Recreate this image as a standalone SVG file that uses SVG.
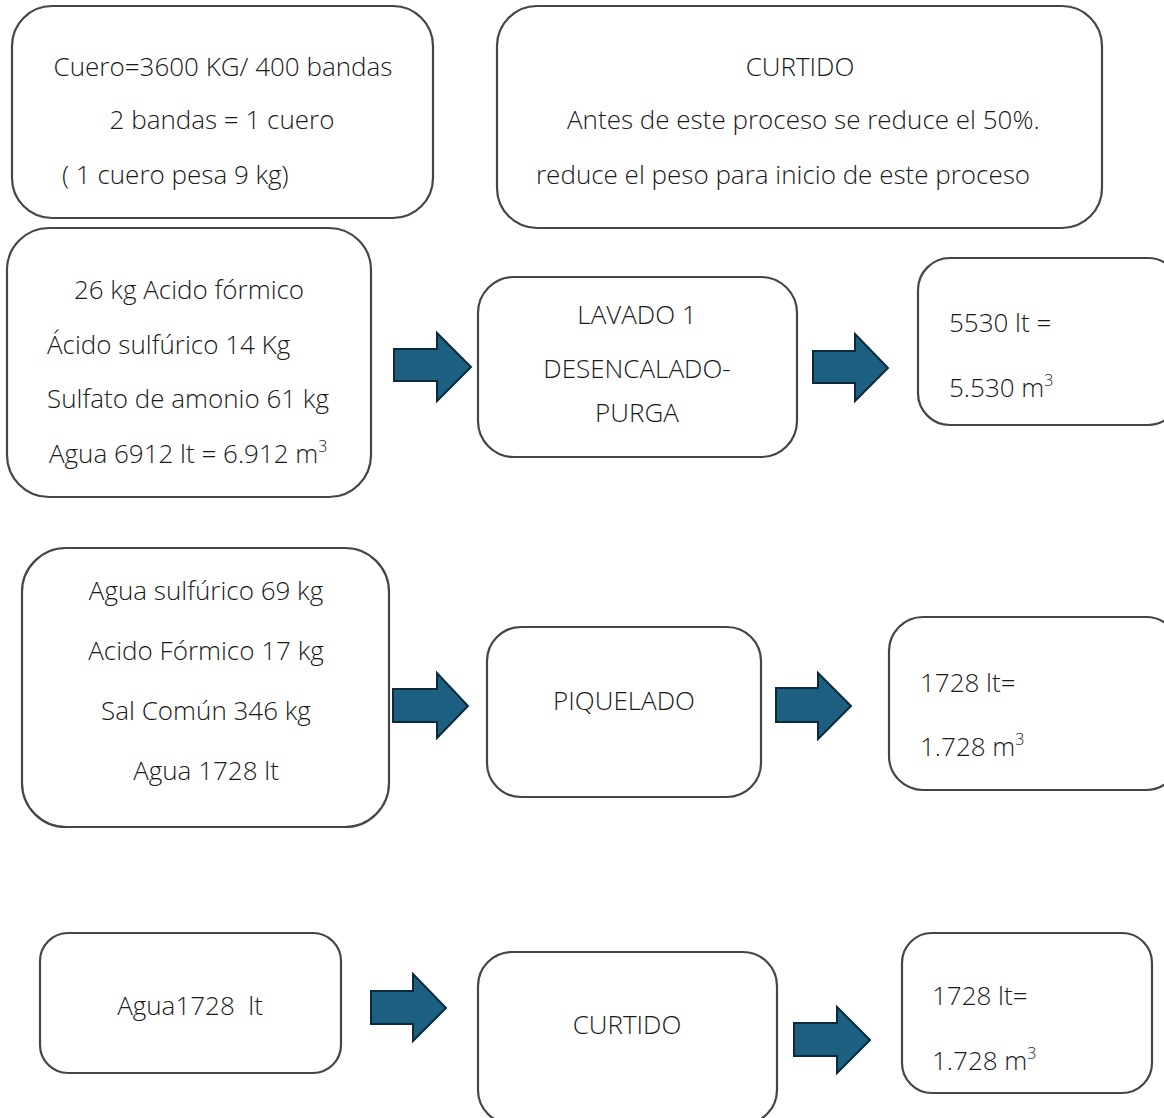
<svg xmlns="http://www.w3.org/2000/svg" width="1164" height="1118" viewBox="0 0 1164 1118">
<style>
.box{fill:#fff;stroke:#454545;stroke-width:2.2}
.arr{fill:#1c5f80;stroke:#0c2a3d;stroke-width:2}
text{font-family:"Open Sans",Lato,"Liberation Sans",sans-serif;font-size:26px;font-weight:300;fill:#1a1a1a;white-space:pre}
.c{text-anchor:middle}
.sup{font-size:16px}
</style>
<rect width="1164" height="1118" fill="#fff"/>
<g id="connectors">
<polygon class="arr" points="394,349 437,349 437,333 471,367 437,401 437,381 394,381"/>
<polygon class="arr" points="813,351 855,351 855,334 888,368 855,401 855,383 813,383"/>
<polygon class="arr" points="393,689 437,689 437,673 468,706 437,738 437,722 393,722"/>
<polygon class="arr" points="776,688 818,688 818,673 851,706 818,739 818,722 776,722"/>
<polygon class="arr" points="371,991 413,991 413,974 446,1008 413,1041 413,1024 371,1024"/>
<polygon class="arr" points="794,1023 837,1023 837,1007 870,1040 837,1073 837,1056 794,1056"/>
</g>
<g id="n1"><rect class="box" x="12" y="6" width="421" height="212" rx="40"/>
<text class="c" x="223" y="76">Cuero=3600 KG/ 400 bandas</text>
<text class="c" x="222" y="129">2 bandas = 1 cuero</text>
<text x="62" y="184">( 1 cuero pesa 9 kg)</text></g>
<g id="n2"><rect class="box" x="497" y="6" width="605" height="222" rx="40"/>
<text class="c" x="800" y="76">CURTIDO</text>
<text x="567" y="129">Antes de este proceso se reduce el 50%.</text>
<text x="536" y="184">reduce el peso para inicio de este proceso</text></g>
<g id="n3"><rect class="box" x="7" y="228" width="364" height="269" rx="42"/>
<text class="c" x="189" y="299">26 kg Acido fórmico</text>
<text x="47" y="354">Ácido sulfúrico 14 Kg</text>
<text x="47" y="408">Sulfato de amonio 61 kg</text>
<text x="49" y="463">Agua 6912 lt = 6.912 m<tspan class="sup" dy="-11">3</tspan></text></g>
<g id="n4"><rect class="box" x="478" y="277" width="319" height="180" rx="36"/>
<text class="c" x="637" y="324">LAVADO 1</text>
<text class="c" x="637" y="378">DESENCALADO-</text>
<text class="c" x="637" y="422">PURGA</text></g>
<g id="n5"><rect class="box" x="918" y="258" width="262" height="167" rx="32"/>
<text x="949" y="332">5530 lt =</text>
<text x="949" y="397">5.530 m<tspan class="sup" dy="-11">3</tspan></text></g>
<g id="n6"><rect class="box" x="22" y="548" width="367" height="279" rx="44"/>
<text class="c" x="206" y="600">Agua sulfúrico 69 kg</text>
<text class="c" x="206" y="660">Acido Fórmico 17 kg</text>
<text class="c" x="206" y="720">Sal Común 346 kg</text>
<text class="c" x="206" y="780">Agua 1728 lt</text></g>
<g id="n7"><rect class="box" x="487" y="627" width="274" height="170" rx="34"/>
<text class="c" x="624" y="710">PIQUELADO</text></g>
<g id="n8"><rect class="box" x="889" y="617" width="291" height="173" rx="34"/>
<text x="920" y="692">1728 lt=</text>
<text x="920" y="756">1.728 m<tspan class="sup" dy="-11">3</tspan></text></g>
<g id="n9"><rect class="box" x="40" y="933" width="301" height="140" rx="28"/>
<text class="c" x="190" y="1015">Agua1728  lt</text></g>
<g id="n10"><rect class="box" x="478" y="952" width="299" height="172" rx="34"/>
<text class="c" x="627" y="1034">CURTIDO</text></g>
<g id="n11"><rect class="box" x="902" y="933" width="250" height="160" rx="30"/>
<text x="932" y="1005">1728 lt=</text>
<text x="932" y="1070">1.728 m<tspan class="sup" dy="-11">3</tspan></text></g>
</svg>
